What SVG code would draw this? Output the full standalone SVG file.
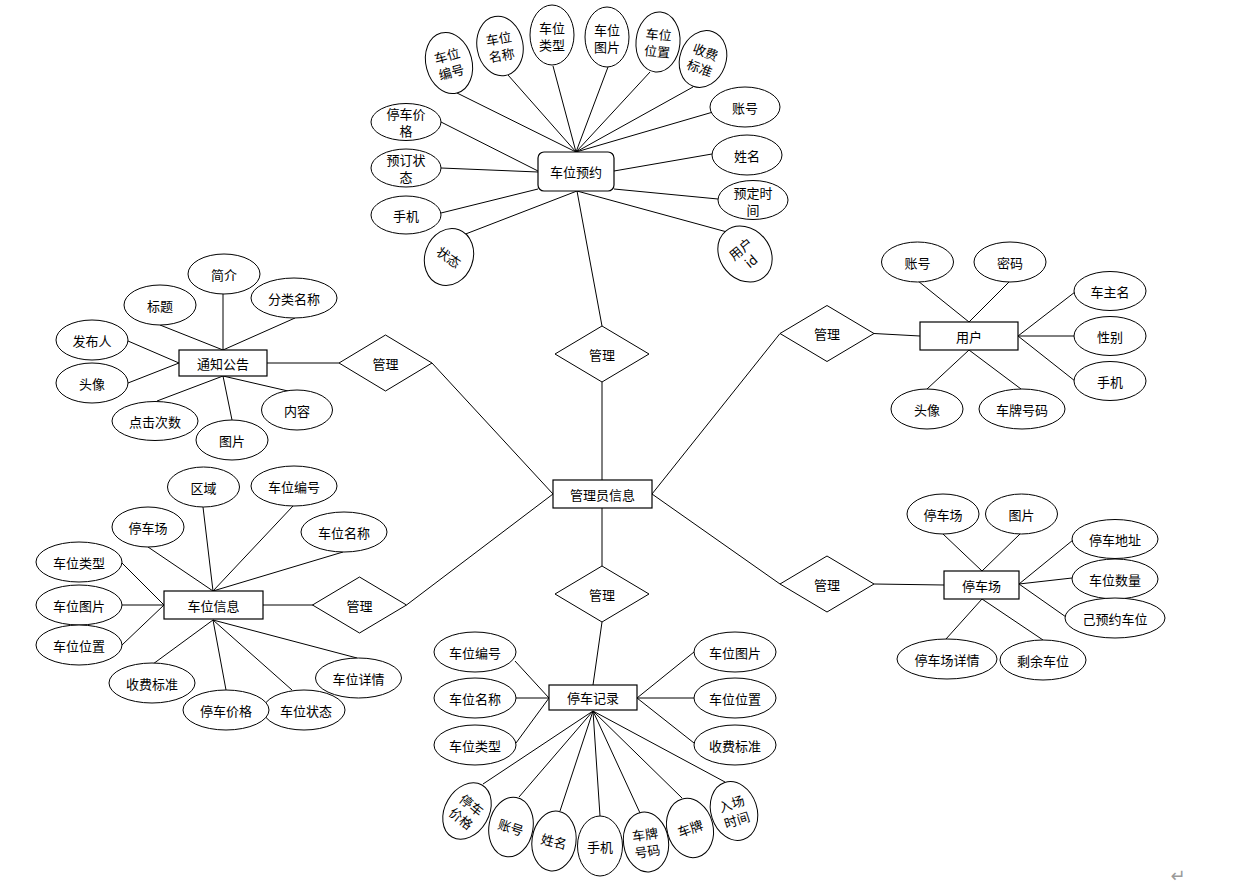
<svg xmlns="http://www.w3.org/2000/svg" width="1259" height="890" viewBox="0 0 1259 890">
<style>
.c line{stroke:#000;stroke-width:1}
.e{fill:#fff;stroke:#000;stroke-width:1}
.r{fill:#fff;stroke:#000;stroke-width:1.2}
.d{fill:#fff;stroke:#000;stroke-width:1}
text{font-family:"Noto Sans CJK SC","Liberation Sans",sans-serif;font-size:13px;fill:#000;text-anchor:middle;dominant-baseline:central}
</style>
<rect width="1259" height="890" fill="#fff"/>
<g id="connectors" class="c">
<!-- 车位预约 -->
<line x1="576" y1="152" x2="457" y2="93"/>
<line x1="576" y1="152" x2="508" y2="75"/>
<line x1="576" y1="152" x2="553" y2="66"/>
<line x1="576" y1="152" x2="608" y2="67"/>
<line x1="576" y1="152" x2="650" y2="72"/>
<line x1="576" y1="152" x2="693" y2="87"/>
<line x1="576" y1="152" x2="713" y2="112"/>
<line x1="614" y1="171" x2="712" y2="154"/>
<line x1="614" y1="189" x2="718" y2="199"/>
<line x1="577" y1="191" x2="727" y2="232"/>
<line x1="538" y1="171" x2="441" y2="122"/>
<line x1="538" y1="172" x2="441" y2="168"/>
<line x1="538" y1="189" x2="441" y2="213"/>
<line x1="577" y1="191" x2="463" y2="235"/>
<line x1="577" y1="191" x2="602" y2="326"/>
<!-- 管理员信息 -->
<line x1="602" y1="382" x2="602" y2="480"/>
<line x1="602" y1="508" x2="602" y2="566"/>
<line x1="553" y1="494" x2="432" y2="363"/>
<line x1="553" y1="494" x2="406.5" y2="605"/>
<line x1="652" y1="494" x2="780" y2="333.5"/>
<line x1="652" y1="494" x2="780" y2="584"/>
<!-- 通知公告 -->
<line x1="267" y1="363" x2="339" y2="363"/>
<line x1="223" y1="350" x2="160" y2="325"/>
<line x1="223" y1="350" x2="223" y2="294"/>
<line x1="223" y1="350" x2="295" y2="318"/>
<line x1="179" y1="363" x2="128" y2="341"/>
<line x1="179" y1="363" x2="128" y2="383"/>
<line x1="223" y1="376" x2="157" y2="401"/>
<line x1="223" y1="376" x2="232" y2="420"/>
<line x1="223" y1="376" x2="288" y2="391"/>
<!-- 车位信息 -->
<line x1="263" y1="605" x2="313" y2="605"/>
<line x1="213" y1="591" x2="148" y2="547"/>
<line x1="213" y1="591" x2="203" y2="507"/>
<line x1="213" y1="591" x2="293" y2="506"/>
<line x1="213" y1="591" x2="343" y2="552"/>
<line x1="164" y1="605" x2="122" y2="563"/>
<line x1="164" y1="605" x2="122" y2="605"/>
<line x1="164" y1="605" x2="122" y2="645"/>
<line x1="213" y1="620" x2="153" y2="664"/>
<line x1="213" y1="620" x2="226" y2="690"/>
<line x1="213" y1="620" x2="292" y2="690"/>
<line x1="213" y1="620" x2="357" y2="658"/>
<!-- 停车记录 -->
<line x1="593" y1="685" x2="602" y2="622"/>
<line x1="549" y1="698" x2="515" y2="661"/>
<line x1="549" y1="698" x2="516" y2="698"/>
<line x1="549" y1="698" x2="516" y2="743"/>
<line x1="637" y1="698" x2="694" y2="652"/>
<line x1="637" y1="698" x2="694" y2="698"/>
<line x1="637" y1="698" x2="694" y2="743"/>
<line x1="593" y1="711" x2="483" y2="784"/>
<line x1="593" y1="711" x2="519" y2="797"/>
<line x1="593" y1="711" x2="560" y2="811"/>
<line x1="593" y1="711" x2="600" y2="816"/>
<line x1="593" y1="711" x2="640" y2="813"/>
<line x1="593" y1="711" x2="682" y2="798"/>
<line x1="593" y1="711" x2="725" y2="782"/>
<!-- 用户 -->
<line x1="874" y1="333.5" x2="920" y2="336"/>
<line x1="969" y1="322" x2="918" y2="281"/>
<line x1="969" y1="322" x2="1010" y2="281"/>
<line x1="1018" y1="336" x2="1075" y2="292"/>
<line x1="1018" y1="336" x2="1074" y2="336"/>
<line x1="1018" y1="336" x2="1075" y2="381"/>
<line x1="969" y1="350" x2="927" y2="389"/>
<line x1="969" y1="350" x2="1021" y2="389"/>
<!-- 停车场 -->
<line x1="874" y1="584" x2="944" y2="585"/>
<line x1="982" y1="571" x2="943" y2="534"/>
<line x1="982" y1="571" x2="1020" y2="534"/>
<line x1="1019" y1="584" x2="1073" y2="540"/>
<line x1="1019" y1="584" x2="1072" y2="578"/>
<line x1="1019" y1="584" x2="1066" y2="617"/>
<line x1="982" y1="599" x2="946" y2="639"/>
<line x1="982" y1="599" x2="1043" y2="640"/>
</g>

<!-- 车位预约 -->
<g id="n-cwyy"><rect class="r" x="538" y="152" width="76" height="39" rx="6"/><text x="576" y="171.5">车位预约</text></g>
<g id="a-yy-bh" transform="translate(449,63) rotate(-15)"><ellipse class="e" rx="23" ry="31"/><text y="-8">车位</text><text y="9">编号</text></g>
<g id="a-yy-mc" transform="translate(500,46) rotate(-10)"><ellipse class="e" rx="23" ry="30"/><text y="-8">车位</text><text y="9">名称</text></g>
<g id="a-yy-lx" transform="translate(552,35)"><ellipse class="e" rx="22" ry="30"/><text y="-8">车位</text><text y="9">类型</text></g>
<g id="a-yy-tp" transform="translate(607,37)"><ellipse class="e" rx="22" ry="30"/><text y="-8">车位</text><text y="9">图片</text></g>
<g id="a-yy-wz" transform="translate(658,42) rotate(5)"><ellipse class="e" rx="22" ry="30"/><text y="-8">车位</text><text y="9">位置</text></g>
<g id="a-yy-sf" transform="translate(703,59) rotate(20)"><ellipse class="e" rx="23" ry="29"/><text y="-8">收费</text><text y="9">标准</text></g>
<g id="a-yy-zh"><ellipse class="e" cx="745" cy="107" rx="35" ry="20"/><text x="745" y="107">账号</text></g>
<g id="a-yy-xm"><ellipse class="e" cx="747" cy="155" rx="35" ry="20"/><text x="747" y="155">姓名</text></g>
<g id="a-yy-ydsj"><ellipse class="e" cx="753" cy="200" rx="35" ry="19.5"/><text x="753" y="192">预定时</text><text x="753" y="209">间</text></g>
<g id="a-yy-yhid" transform="translate(745,254) rotate(-40)"><ellipse class="e" rx="25" ry="30"/><text y="-7">用户</text><text y="9">id</text></g>
<g id="a-yy-tcjg"><ellipse class="e" cx="406" cy="122" rx="35" ry="18.5"/><text x="406" y="113">停车价</text><text x="406" y="130">格</text></g>
<g id="a-yy-ydzt"><ellipse class="e" cx="406" cy="168" rx="35" ry="19"/><text x="406" y="159">预订状</text><text x="406" y="176">态</text></g>
<g id="a-yy-sj"><ellipse class="e" cx="406" cy="215" rx="35" ry="19"/><text x="406" y="215">手机</text></g>
<g id="a-yy-zt" transform="translate(449,257) rotate(20)"><ellipse class="e" rx="24" ry="29"/><text transform="rotate(15)">状态</text></g>

<!-- 管理员信息 and 管理 -->
<g id="n-gly"><rect class="r" x="553" y="480" width="99" height="28"/><text x="602.5" y="494">管理员信息</text></g>
<g id="r-top"><polygon class="d" points="602,326 649,354 602,382 555,354"/><text x="602" y="354">管理</text></g>
<g id="r-bottom"><polygon class="d" points="602,566 649,594 602,622 555,594"/><text x="602" y="594">管理</text></g>
<g id="r-tzgg"><polygon class="d" points="385.5,335 432,363 385.5,391 339,363"/><text x="385.5" y="363">管理</text></g>
<g id="r-cwxx"><polygon class="d" points="359.5,577 406.5,605 359.5,633 312.5,605"/><text x="359.5" y="605">管理</text></g>
<g id="r-yh"><polygon class="d" points="827,305.5 874,333.5 827,361.5 780,333.5"/><text x="827" y="333.5">管理</text></g>
<g id="r-tcc"><polygon class="d" points="827,556 874,584 827,612 780,584"/><text x="827" y="584">管理</text></g>

<!-- 通知公告 -->
<g id="n-tzgg"><rect class="r" x="179" y="350" width="88" height="26"/><text x="223" y="363">通知公告</text></g>
<g id="a-tz-jj"><ellipse class="e" cx="224" cy="274" rx="36" ry="20"/><text x="224" y="274">简介</text></g>
<g id="a-tz-bt"><ellipse class="e" cx="160" cy="305" rx="36" ry="20"/><text x="160" y="305">标题</text></g>
<g id="a-tz-fl"><ellipse class="e" cx="294" cy="298" rx="43" ry="20"/><text x="294" y="298">分类名称</text></g>
<g id="a-tz-fbr"><ellipse class="e" cx="92" cy="340" rx="36" ry="20"/><text x="92" y="340">发布人</text></g>
<g id="a-tz-tx"><ellipse class="e" cx="92" cy="383" rx="36" ry="20"/><text x="92" y="383">头像</text></g>
<g id="a-tz-djcs"><ellipse class="e" cx="155" cy="421" rx="43" ry="19.5"/><text x="155" y="421">点击次数</text></g>
<g id="a-tz-tp"><ellipse class="e" cx="232" cy="440" rx="36" ry="20"/><text x="232" y="440">图片</text></g>
<g id="a-tz-nr"><ellipse class="e" cx="297" cy="410" rx="35.5" ry="20"/><text x="297" y="410">内容</text></g>

<!-- 车位信息 -->
<g id="n-cwxx"><rect class="r" x="164" y="591" width="99" height="28"/><text x="213.5" y="605">车位信息</text></g>
<g id="a-xx-qy"><ellipse class="e" cx="203.5" cy="487" rx="36" ry="20"/><text x="203.5" y="487">区域</text></g>
<g id="a-xx-bh"><ellipse class="e" cx="294" cy="486" rx="43" ry="20"/><text x="294" y="486">车位编号</text></g>
<g id="a-xx-tcc"><ellipse class="e" cx="148" cy="527" rx="36" ry="20"/><text x="148" y="527">停车场</text></g>
<g id="a-xx-mc"><ellipse class="e" cx="344" cy="532" rx="43" ry="20"/><text x="344" y="532">车位名称</text></g>
<g id="a-xx-lx"><ellipse class="e" cx="79" cy="562" rx="43" ry="20"/><text x="79" y="562">车位类型</text></g>
<g id="a-xx-tp"><ellipse class="e" cx="79" cy="605" rx="43" ry="20"/><text x="79" y="605">车位图片</text></g>
<g id="a-xx-wz"><ellipse class="e" cx="79" cy="645" rx="43" ry="20"/><text x="79" y="645">车位位置</text></g>
<g id="a-xx-sf"><ellipse class="e" cx="152" cy="683" rx="43" ry="20"/><text x="152" y="683">收费标准</text></g>
<g id="a-xx-zt"><ellipse class="e" cx="304" cy="710" rx="41" ry="20"/><text x="306" y="710">车位状态</text></g>
<g id="a-xx-jg"><ellipse class="e" cx="226" cy="710" rx="43" ry="20"/><text x="226" y="710">停车价格</text></g>
<g id="a-xx-xq"><ellipse class="e" cx="358.5" cy="678" rx="43" ry="20"/><text x="358.5" y="678">车位详情</text></g>

<!-- 停车记录 -->
<g id="n-tcjl"><rect class="r" x="549" y="685" width="88" height="25"/><text x="593" y="697.5">停车记录</text></g>
<g id="a-jl-bh"><ellipse class="e" cx="475" cy="652" rx="41" ry="20"/><text x="475" y="652">车位编号</text></g>
<g id="a-jl-mc"><ellipse class="e" cx="475" cy="698" rx="41" ry="20"/><text x="475" y="698">车位名称</text></g>
<g id="a-jl-lx"><ellipse class="e" cx="475" cy="745" rx="41" ry="20"/><text x="475" y="745">车位类型</text></g>
<g id="a-jl-tp"><ellipse class="e" cx="735" cy="652" rx="41" ry="20"/><text x="735" y="652">车位图片</text></g>
<g id="a-jl-wz"><ellipse class="e" cx="735" cy="698" rx="41" ry="20"/><text x="735" y="698">车位位置</text></g>
<g id="a-jl-sf"><ellipse class="e" cx="735" cy="745" rx="41" ry="20"/><text x="735" y="745">收费标准</text></g>
<g id="a-jl-jg" transform="translate(467,811) rotate(30)"><ellipse class="e" rx="22" ry="30"/><text y="-8" transform="rotate(8)">停车</text><text y="9" transform="rotate(8)">价格</text></g>
<g id="a-jl-zh" transform="translate(511,827) rotate(10)"><ellipse class="e" rx="22" ry="30"/><text transform="rotate(8)">账号</text></g>
<g id="a-jl-xm" transform="translate(554,841) rotate(8)"><ellipse class="e" rx="22" ry="30"/><text transform="rotate(6)">姓名</text></g>
<g id="a-jl-sj" transform="translate(600,846)"><ellipse class="e" rx="22.5" ry="30"/><text>手机</text></g>
<g id="a-jl-cphm" transform="translate(646,842) rotate(-8)"><ellipse class="e" rx="22.5" ry="30"/><text y="-8">车牌</text><text y="9">号码</text></g>
<g id="a-jl-cp" transform="translate(690,828) rotate(-15)"><ellipse class="e" rx="23" ry="30"/><text transform="rotate(-5)">车牌</text></g>
<g id="a-jl-rcsj" transform="translate(734,811) rotate(-18)"><ellipse class="e" rx="23" ry="30"/><text y="-8">入场</text><text y="9">时间</text></g>

<!-- 用户 -->
<g id="n-yh"><rect class="r" x="920" y="322" width="98" height="28"/><text x="969" y="336">用户</text></g>
<g id="a-yh-zh"><ellipse class="e" cx="917.5" cy="262" rx="36" ry="20"/><text x="917.5" y="262">账号</text></g>
<g id="a-yh-mm"><ellipse class="e" cx="1010" cy="262" rx="36" ry="20"/><text x="1010" y="262">密码</text></g>
<g id="a-yh-czm"><ellipse class="e" cx="1110" cy="291" rx="36" ry="19.5"/><text x="1110" y="291">车主名</text></g>
<g id="a-yh-xb"><ellipse class="e" cx="1110" cy="336" rx="36" ry="19.5"/><text x="1110" y="336">性别</text></g>
<g id="a-yh-sj"><ellipse class="e" cx="1110" cy="381" rx="36" ry="19.5"/><text x="1110" y="381">手机</text></g>
<g id="a-yh-tx"><ellipse class="e" cx="927" cy="409" rx="36" ry="20"/><text x="927" y="409">头像</text></g>
<g id="a-yh-cphm"><ellipse class="e" cx="1022" cy="409" rx="43" ry="20"/><text x="1022" y="409">车牌号码</text></g>

<!-- 停车场 -->
<g id="n-tcc"><rect class="r" x="944" y="571" width="75" height="28"/><text x="981.5" y="585">停车场</text></g>
<g id="a-tc-tcc"><ellipse class="e" cx="943" cy="514" rx="36" ry="20"/><text x="943" y="514">停车场</text></g>
<g id="a-tc-tp"><ellipse class="e" cx="1021.5" cy="514" rx="36" ry="20"/><text x="1021.5" y="514">图片</text></g>
<g id="a-tc-dz"><ellipse class="e" cx="1115" cy="539" rx="43" ry="19.5"/><text x="1115" y="539">停车地址</text></g>
<g id="a-tc-sl"><ellipse class="e" cx="1115" cy="579" rx="43" ry="20"/><text x="1115" y="579">车位数量</text></g>
<g id="a-tc-yyy"><ellipse class="e" cx="1115" cy="618" rx="50" ry="20"/><text x="1115" y="618">己预约车位</text></g>
<g id="a-tc-xq"><ellipse class="e" cx="947" cy="659" rx="50" ry="20"/><text x="947" y="659">停车场详情</text></g>
<g id="a-tc-sy"><ellipse class="e" cx="1043" cy="660" rx="43" ry="20"/><text x="1043" y="660">剩余车位</text></g>

<text x="1178" y="875" style="font-family:'DejaVu Sans',sans-serif;font-size:18px;fill:#9a9a9a">↵</text>
</svg>
